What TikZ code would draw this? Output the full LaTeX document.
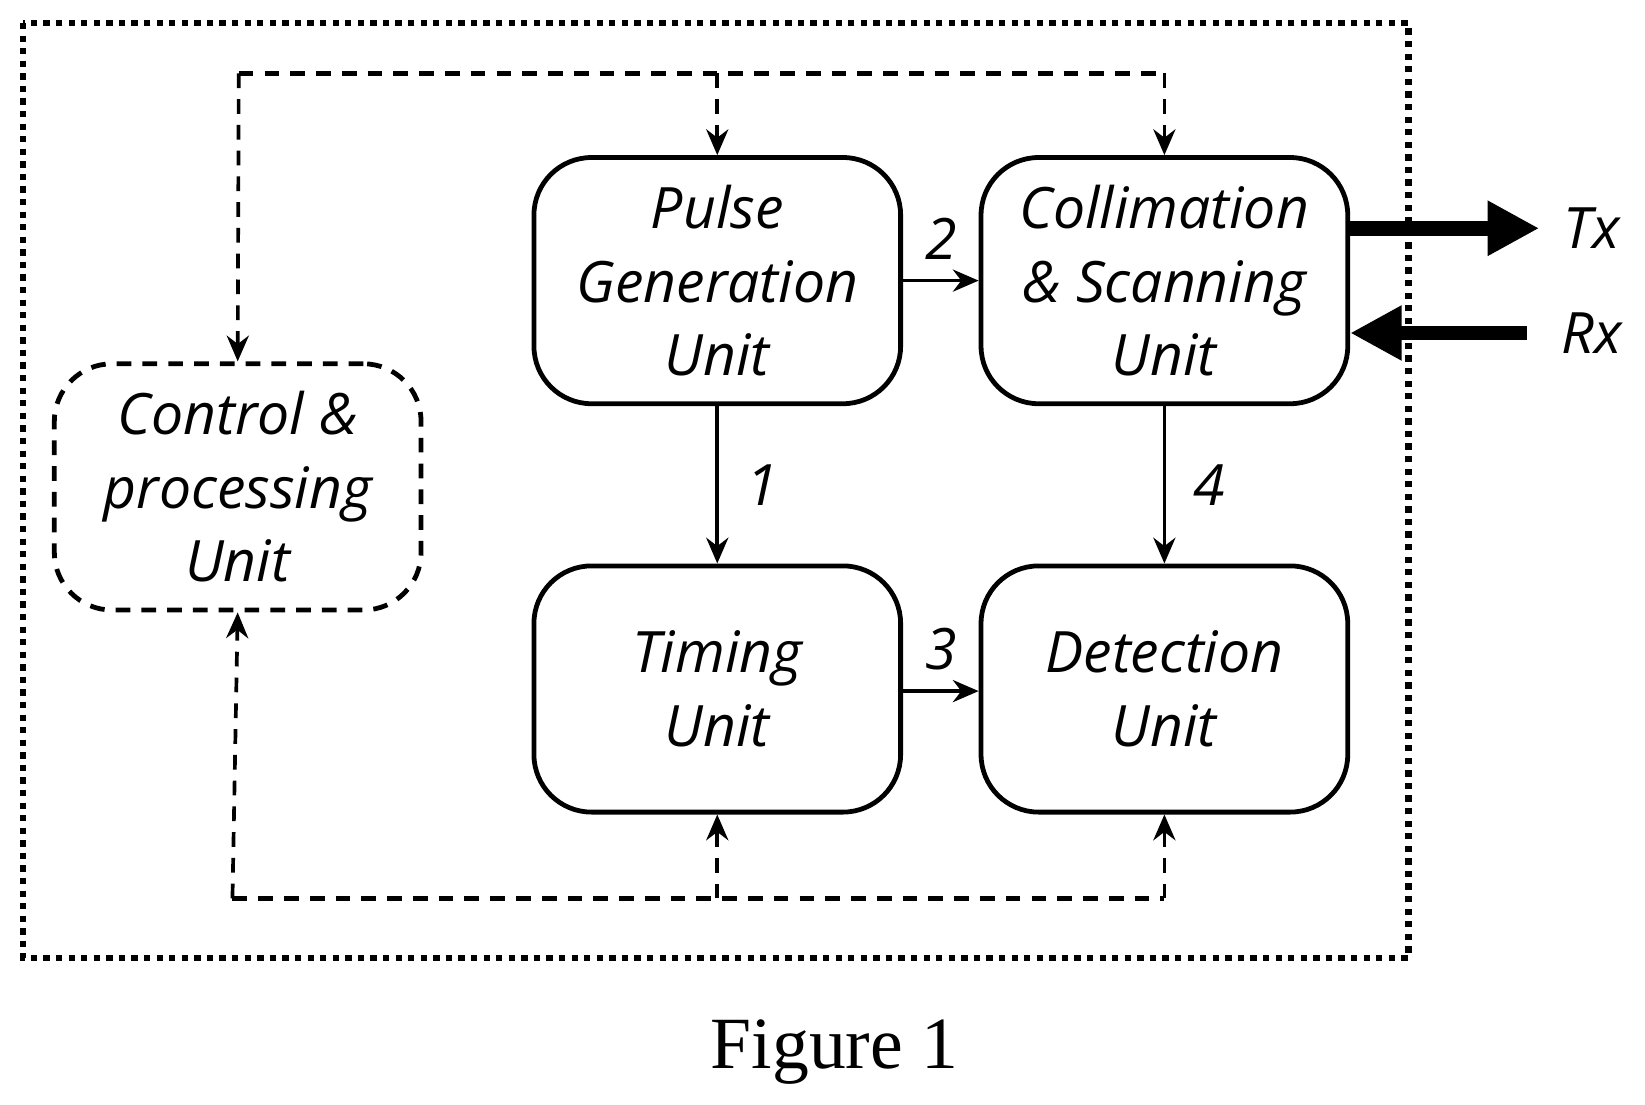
\documentclass[tikz,border=0pt]{standalone}
\usepackage{fontspec}
\setmainfont{Liberation Serif}
\newfontfamily\boxfont{Open Sans}
\usetikzlibrary{arrows.meta}

\begin{document}
\begin{tikzpicture}[x=0.01cm, y=-0.01cm,
  unit/.style={draw, line width=1.3pt, rounded corners=0.55cm, minimum width=3.5cm,
    minimum height=2.35cm, align=center, font=\boxfont\itshape\fontsize{15.5}{20}\selectfont, inner sep=0pt},
  ctrl/.style={draw=black, line width=1.3pt, dash pattern=on 4pt off 3pt},
  link/.style={line width=1pt, -{Stealth[length=7pt,width=6pt]}},
  lbl/.style={font=\boxfont\itshape\fontsize{15.5}{20}\selectfont},
  io/.style={line width=4pt, -{Triangle[length=14pt,width=14pt]}}]

\useasboundingbox (0,0) rectangle (1571,1055);

% outer frame
\draw [line width=0.6mm, dash pattern=on 0.6mm off 0.6mm] (22,22) rectangle (1345,915);

% units
\node [unit] (pulse)  at  (685, 268) {Pulse\\Generation\\Unit};
\node [unit] (collim) at (1112, 268) {Collimation\\\& Scanning\\Unit};
\node [unit] (timing) at  (685, 658) {Timing\\Unit};
\node [unit] (detect) at (1112, 658) {Detection\\Unit};
\node [unit, dash pattern=on 4pt off 3pt] (ctrl) at (227, 465) {Control \&\\processing\\Unit};

% signal paths
\draw [link] (pulse.south) -- (timing.north) node [lbl, midway, right=4pt] {1};
\draw [link] (pulse.east |- 0,268) -- (collim.west |- 0,268) node [lbl, midway, above=2pt] {2};
\draw [link] (timing.east |- 0,660) -- (detect.west |- 0,660) node [lbl, midway, above=2pt] {3};
\draw [link] (collim.south) -- (detect.north) node [lbl, midway, right=4pt] {4};

% control lines
\coordinate (ctop) at (228,70);
\coordinate (cbot) at (222,858);
\draw [ctrl] (ctop) -- (1112,70);
\draw [ctrl, link] (ctop) -- (ctrl.north);
\draw [ctrl, link] (685,70) -- (pulse.north);
\draw [ctrl, link] (1112,70) -- (collim.north);
\draw [ctrl] (cbot) -- (1112,858);
\draw [ctrl, link] (cbot) -- (ctrl.south);
\draw [ctrl, link] (685,858) -- (timing.south);
\draw [ctrl, link] (1112,858) -- (detect.south);

% Tx / Rx
\coordinate (tx) at (1470,218);
\coordinate (rx) at (1458,318);
\draw [io] (collim.east |- tx) -- (tx);
\draw [io] (rx) -- (collim.east |- rx);
\node [lbl] (txl) at (1520,218) {Tx};
\node [lbl] (rxl) at (1520,318) {Rx};

\node [font=\fontsize{20}{24}\selectfont] (cap) at (797,1005) {Figure 1};
\end{tikzpicture}
\end{document}
